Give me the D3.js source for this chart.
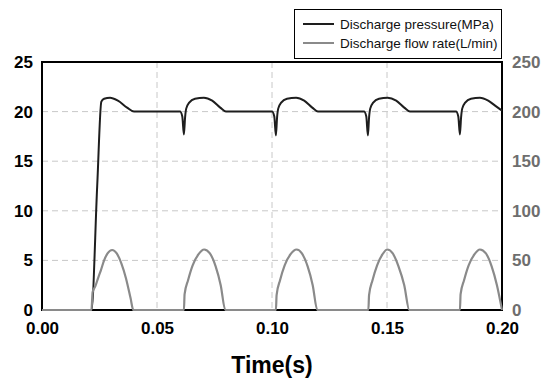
<!DOCTYPE html>
<html>
<head>
<meta charset="utf-8">
<script src="https://cdn.jsdelivr.net/npm/d3@7"></script>
<style>
  body { margin: 0; background: #fff; }
  svg { font-family: "Liberation Sans", Arial, sans-serif; }
</style>
</head>
<body>
<div id="chart"></div>
<script>
// time (s) and discharge pressure (MPa)
var pressureT = [0, 0.0215, 0.0240, 0.0258, 0.0270, 0.0296, 0.0330, 0.0370, 0.0400,
  0.0600, 0.0610, 0.0617, 0.0622, 0.0627, 0.0640, 0.0665, 0.0704, 0.0740, 0.0775, 0.0800,
  0.1000, 0.1010, 0.1017, 0.1022, 0.1027, 0.1040, 0.1065, 0.1105, 0.1140, 0.1175, 0.1200,
  0.1400, 0.1410, 0.1417, 0.1422, 0.1427, 0.1440, 0.1465, 0.1503, 0.1540, 0.1575, 0.1600,
  0.1800, 0.1810, 0.1817, 0.1822, 0.1827, 0.1840, 0.1865, 0.1904, 0.1940, 0.1970, 0.2000];
var pressureV = [0, 0, 12.5, 21.0, 21.3, 21.4, 21.1, 20.4, 20.0,
  20.0, 19.5, 17.7, 19.4, 20.3, 20.9, 21.3, 21.4, 21.1, 20.4, 20.0,
  20.0, 19.5, 17.6, 19.4, 20.3, 20.9, 21.3, 21.4, 21.1, 20.4, 20.0,
  20.0, 19.5, 17.6, 19.4, 20.3, 20.9, 21.3, 21.4, 21.1, 20.4, 20.0,
  20.0, 19.5, 17.7, 19.4, 20.3, 20.9, 21.3, 21.4, 21.1, 20.6, 20.1];

// time (s) and discharge flow rate (L/min)
var flowT = [0, 0.0215, 0.0220, 0.0232, 0.0245, 0.0256, 0.0270, 0.0285, 0.0305, 0.0325, 0.0345, 0.0365, 0.0385, 0.0397,
  0.0617, 0.0620, 0.0635, 0.0655, 0.0680, 0.0705, 0.0730, 0.0755, 0.0777, 0.0797,
  0.1017, 0.1020, 0.1035, 0.1055, 0.1080, 0.1107, 0.1130, 0.1155, 0.1177, 0.1197,
  0.1419, 0.1422, 0.1437, 0.1457, 0.1480, 0.1501, 0.1525, 0.1550, 0.1575, 0.1597,
  0.1817, 0.1820, 0.1835, 0.1855, 0.1880, 0.1904, 0.1930, 0.1955, 0.1978, 0.2000];
var flowV = [0, 0, 18, 24, 33, 40, 50, 57, 60.5, 57, 47, 32, 12, 0,
  0, 16, 30, 45, 56, 61, 57, 44, 25, 0,
  0, 15, 30, 45, 56, 61, 57, 44, 25, 0,
  0, 15, 30, 45, 56, 61, 57, 44, 25, 0,
  0, 16, 30, 45, 56, 61, 57, 44, 25, 0];

var xTicks = [0, 0.05, 0.10, 0.15, 0.20];
var leftTicks = [0, 5, 10, 15, 20, 25];
var rightTicks = [0, 50, 100, 150, 200, 250];
var legendLabels = ["Discharge pressure(MPa)", "Discharge flow rate(L/min)"];

var width = 545, height = 378;
var margin = {top: 62, right: 43, bottom: 68, left: 42};
var w = width - margin.left - margin.right,
    h = height - margin.top - margin.bottom;

var svg = d3.select("#chart").append("svg")
    .attr("width", width)
    .attr("height", height);

var g = svg.append("g").attr("transform", "translate(" + margin.left + "," + margin.top + ")");

var x = d3.scaleLinear().domain([0, 0.2]).range([0, w]),
    yL = d3.scaleLinear().domain([0, 25]).range([h, 0]),
    yR = d3.scaleLinear().domain([0, 250]).range([h, 0]);

// grid
g.selectAll(".gx").data(xTicks.slice(1, -1)).enter().append("line")
    .attr("x1", function(d) { return x(d); }).attr("x2", function(d) { return x(d); })
    .attr("y1", 0).attr("y2", h)
    .attr("stroke", "#c8c8c8").attr("stroke-dasharray", "6,4");
g.selectAll(".gy").data(leftTicks.slice(1, -1)).enter().append("line")
    .attr("x1", 0).attr("x2", w)
    .attr("y1", function(d) { return yL(d); }).attr("y2", function(d) { return yL(d); })
    .attr("stroke", "#c8c8c8").attr("stroke-dasharray", "6,4");

// frame
g.append("rect").attr("width", w).attr("height", h)
    .attr("fill", "none").attr("stroke", "#000").attr("stroke-width", 2);

// axes
var ax = g.append("g").attr("transform", "translate(0," + h + ")")
    .call(d3.axisBottom(x).tickValues(xTicks).tickFormat(d3.format(".2f")).tickSize(0).tickPadding(12));
var al = g.append("g")
    .call(d3.axisLeft(yL).tickValues(leftTicks).tickSize(0).tickPadding(9));
var ar = g.append("g").attr("transform", "translate(" + w + ",0)")
    .call(d3.axisRight(yR).tickValues(rightTicks).tickSize(0).tickPadding(10));
[ax, al, ar].forEach(function(a) {
  a.select(".domain").remove();
  a.selectAll("text").style("font-size", "17px").style("font-weight", "bold")
    .style("font-family", "'Liberation Sans', Arial, sans-serif");
});
ax.selectAll("text").attr("fill", "#000");
al.selectAll("text").attr("fill", "#000");
ar.selectAll("text").attr("fill", "#6e6e6e");

// lines
var flowLine = d3.line()
    .x(function(d, i) { return x(flowT[i]); })
    .y(function(d) { return yR(d); })
    .curve(d3.curveMonotoneX);
var pressLine = d3.line()
    .x(function(d, i) { return x(pressureT[i]); })
    .y(function(d) { return yL(d); })
    .curve(d3.curveMonotoneX);

g.append("path").datum(pressureV)
    .attr("d", pressLine)
    .attr("fill", "none").attr("stroke", "#1e1e1e").attr("stroke-width", 2);
g.append("path").datum(flowV)
    .attr("d", flowLine)
    .attr("fill", "none").attr("stroke", "#8a8a8a").attr("stroke-width", 2.2);

// x title
svg.append("text")
    .attr("x", margin.left + w / 2).attr("y", 373)
    .attr("text-anchor", "middle")
    .style("font-size", "23px").style("font-weight", "bold")
    .text("Time(s)");

// legend
var lg = svg.append("g");
lg.append("rect").attr("x", 294.5).attr("y", 9.5).attr("width", 207).attr("height", 49)
    .attr("fill", "#fff").attr("stroke", "#000").attr("stroke-width", 1);
var legColors = ["#1e1e1e", "#8a8a8a"];
legendLabels.forEach(function(t, i) {
  var yy = 24 + i * 19;
  lg.append("line").attr("x1", 303).attr("x2", 334).attr("y1", yy).attr("y2", yy)
    .attr("stroke", legColors[i]).attr("stroke-width", 2);
  lg.append("text").attr("x", 340).attr("y", yy + 5)
    .style("font-size", "13.5px").attr("fill", "#111").text(t);
});
</script>
</body>
</html>
